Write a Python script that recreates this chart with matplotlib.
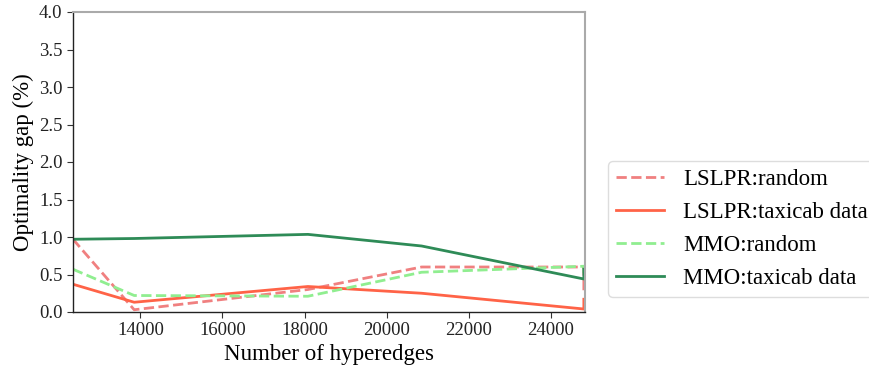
import matplotlib
matplotlib.use("Agg")
import matplotlib.pyplot as plt

plt.rcParams['font.family'] = ['Liberation Serif', 'DejaVu Serif']

x = [12360, 13850, 18080, 20850, 24800, 24800]
lslpr_random = [0.97, 0.03, 0.30, 0.60, 0.60, 0.29]
lslpr_taxi = [0.37, 0.13, 0.34, 0.25, 0.04, 0.17]
mmo_random = [0.57, 0.22, 0.21, 0.53, 0.61, 0.50]
mmo_taxi = [0.97, 0.98, 1.035, 0.88, 0.44, 0.57]

labels = ['LSLPR:random', 'LSLPR:taxicab data', 'MMO:random', 'MMO:taxicab data']
xticks = [14000, 16000, 18000, 20000, 22000, 24000]
yticks = [0.0, 0.5, 1.0, 1.5, 2.0, 2.5, 3.0, 3.5, 4.0]

fig = plt.figure(figsize=(8.7, 3.71), dpi=100)
ax = fig.add_axes([73/870, 1-312/371, (585-73)/870, 300/371])

lw = 2.0
ax.plot(x, lslpr_random, color='#F08080', ls='--', lw=lw, label=labels[0])
ax.plot(x, lslpr_taxi, color='#FF6347', ls='-', lw=lw, label=labels[1])
ax.plot(x, mmo_random, color='#90EE90', ls='--', lw=lw, label=labels[2])
ax.plot(x, mmo_taxi, color='#2E8B57', ls='-', lw=lw, label=labels[3])

ax.set_xlim(12360, 24828)
ax.set_ylim(0, 4.0)
ax.set_xticks(xticks)
ax.set_yticks(yticks)
ax.set_yticklabels([f'{v:.1f}' for v in yticks])
ax.tick_params(axis='both', labelsize=13.5, direction='out', length=4, color='#333333', labelcolor='#222222')
for s in ['top', 'right']:
    ax.spines[s].set_color('#aaaaaa')
    ax.spines[s].set_linewidth(1.5)
for s in ['left', 'bottom']:
    ax.spines[s].set_color('#222222')
    ax.spines[s].set_linewidth(1.0)

ax.set_xlabel('Number of hyperedges', fontsize=16.5, labelpad=3)
ax.set_ylabel('Optimality gap (%)', fontsize=16.5, labelpad=4)

leg = fig.legend(loc='upper left', bbox_to_anchor=(608/870, 1-161/371), fontsize=16.5,
                 frameon=True, fancybox=True, framealpha=1, edgecolor='#dddddd',
                 handlelength=2.1, borderpad=0.35, labelspacing=0.52, handletextpad=0.83,
                 borderaxespad=0)

fig.savefig('out.png', dpi=100)
